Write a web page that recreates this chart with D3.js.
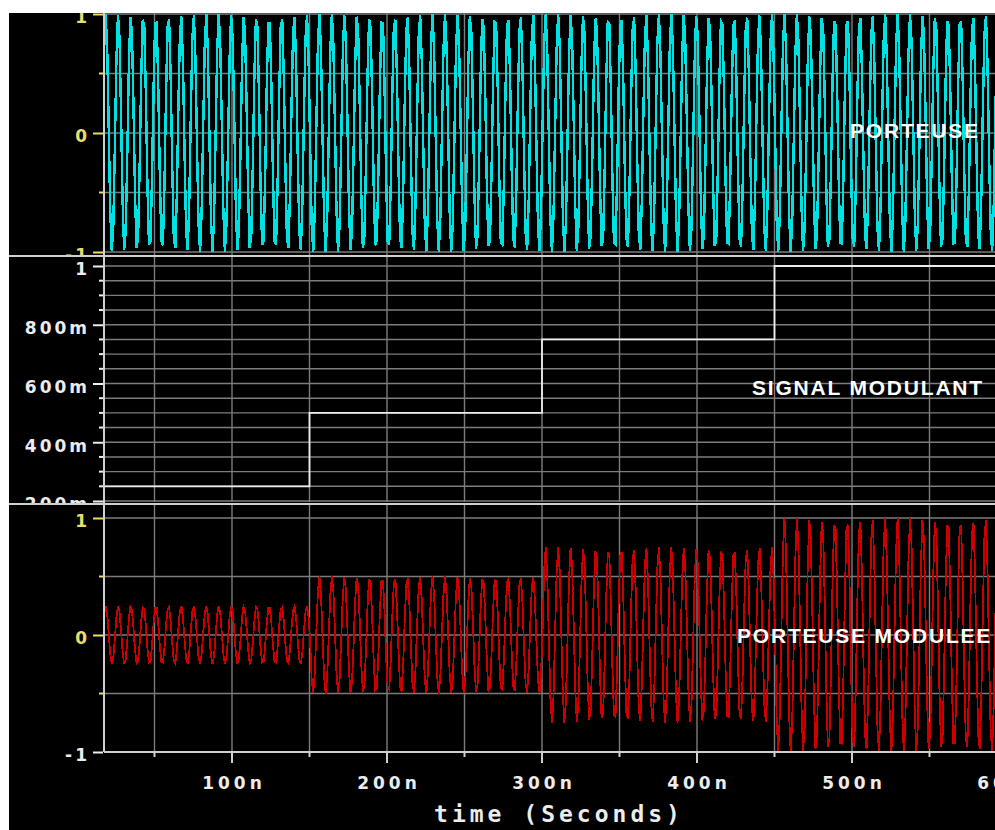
<!DOCTYPE html>
<html>
<head>
<meta charset="utf-8">
<script src="https://cdn.jsdelivr.net/npm/d3@7"></script>
<style>
  body { margin: 0; background: #fff; }
  svg { display: block; }
</style>
</head>
<body>
<svg id="chart" width="995" height="830"></svg>
<script>
// ---- time axis (nanoseconds) ----
const timeTicks = [100, 200, 300, 400, 500, 600];
const timeTickLabels = ["100n", "200n", "300n", "400n", "500n", "600n"];
const timeGrid = [50, 100, 150, 200, 250, 300, 350, 400, 450, 500, 550, 600];
const timeLabel = "time (Seconds)";

// ---- modulating signal: piecewise-constant levels between switch times ----
const stepTimes = [0, 150, 300, 450, 600];
const stepLevels = [0.25, 0.5, 0.75, 1.0];

// ---- carrier source settings ----
const carrierAmplitude = [1];
const carrierPeriodNs = [8.11];
const carrierPeakTimeNs = [26.6];
const sampleStepNs = [1];

// ---- vertical axes ----
const carrierTicks = [-1, 0, 1];
const carrierTickLabels = ["-1", "0", "1"];
const carrierMinorTicks = [-0.5, 0.5];
const modTicks = [0.2, 0.4, 0.6, 0.8, 1];
const modTickLabels = ["200m", "400m", "600m", "800m", "1"];
const modMinorTicks = [0.25, 0.3, 0.35, 0.45, 0.5, 0.55, 0.65, 0.7, 0.75, 0.85, 0.9, 0.95];

// ---- panel titles ----
const panelTitles = ["PORTEUSE", "SIGNAL MODULANT", "PORTEUSE MODULEE"];

// ---------------------------------------------------------------
const W = 995, H = 830;
const svg = d3.select("#chart");
const plotLeft = 104, plotRight = W;

const COL = {
  bg: "#000",
  grid: "#7c7c7c",
  axis: "#cfcfcf",
  yellow: "#e9dd6a",
  white: "#ececec",
  cyan: "#00e2e2",
  red: "#cc0000"
};

const x = d3.scaleLinear().domain([0, 600]).range([77, 1007]);
const tStart = x.invert(plotLeft);

// panel layouts
const panels = [
  { band: [13, 255], plot: [13, 255], y: d3.scaleLinear().domain([-1, 1]).range([252, 14]) },
  { band: [256, 503], plot: [257, 502], y: d3.scaleLinear().domain([0.2, 1]).range([501, 266]) },
  { band: [504, 830], plot: [505, 752], y: d3.scaleLinear().domain([-1, 1]).range([752, 518]) }
];

// frame
svg.append("rect").attr("width", W).attr("height", H).attr("fill", "#fff");
svg.append("rect").attr("x", 9).attr("y", 13).attr("width", W - 9).attr("height", H - 13).attr("fill", COL.bg);

const defs = svg.append("defs");
panels.forEach((p, i) => {
  defs.append("clipPath").attr("id", "band" + i)
    .append("rect").attr("x", 9).attr("y", p.band[0]).attr("width", W - 9).attr("height", p.band[1] - p.band[0]);
  defs.append("clipPath").attr("id", "plot" + i)
    .append("rect").attr("x", plotLeft).attr("y", p.plot[0]).attr("width", plotRight - plotLeft).attr("height", p.plot[1] - p.plot[0]);
});

// ---- waveform samples ----
function envelope(t) {
  for (let i = 0; i < stepLevels.length; i++) {
    if (t < stepTimes[i + 1]) return stepLevels[i];
  }
  return stepLevels[stepLevels.length - 1];
}
const times = d3.range(tStart, 600.001, sampleStepNs[0]);
const carrier = times.map(t => ({
  t, v: carrierAmplitude[0] * Math.cos(2 * Math.PI * (t - carrierPeakTimeNs[0]) / carrierPeriodNs[0])
}));
const modulating = [];
stepLevels.forEach((lv, i) => {
  const a = Math.max(stepTimes[i], tStart), b = stepTimes[i + 1];
  modulating.push({ t: a, v: lv }, { t: b, v: lv });
});
const modulated = carrier.map(d => ({ t: d.t, v: d.v * envelope(d.t) }));

// ---- grids ----
panels.forEach((p, i) => {
  const g = svg.append("g").attr("clip-path", `url(#plot${i})`);
  g.selectAll(".vg").data(timeGrid).join("line")
    .attr("x1", d => x(d)).attr("x2", d => x(d))
    .attr("y1", p.plot[0]).attr("y2", p.plot[1])
    .attr("stroke", COL.grid).attr("stroke-width", 1.4);
  const hvals = i === 1 ? modTicks.concat(modMinorTicks) : carrierTicks.concat(carrierMinorTicks);
  g.selectAll(".hg").data(hvals.filter(v => !(i === 2 && v === -1))).join("line")
    .attr("x1", plotLeft).attr("x2", plotRight)
    .attr("y1", d => p.y(d)).attr("y2", d => p.y(d))
    .attr("stroke", COL.grid).attr("stroke-width", 1.4);
});

// ---- traces ----
function drawTrace(i, data, color, width, curve, crisp) {
  const p = panels[i];
  const line = d3.line().x(d => x(d.t)).y(d => p.y(d.v)).curve(curve || d3.curveLinear);
  svg.append("g").attr("clip-path", `url(#plot${i})`)
    .append("path").datum(data)
    .attr("d", line).attr("fill", "none")
    .attr("stroke", color).attr("stroke-width", width)
    .attr("stroke-linejoin", "miter")
    .attr("shape-rendering", crisp ? "crispEdges" : "auto");
}
drawTrace(0, carrier, COL.cyan, 2.4, d3.curveLinear, true);
drawTrace(1, modulating, COL.white, 1.8, d3.curveStepAfter, false);
drawTrace(2, modulated, COL.red, 1.8, d3.curveLinear, true);

// ---- vertical axes ----
const tickFont = "'DejaVu Sans', sans-serif";
function yAxis(i, majors, labels, minors, colorOf) {
  const p = panels[i];
  const g = svg.append("g").attr("clip-path", `url(#band${i})`);
  const axis = d3.axisLeft(p.y).tickValues(majors)
    .tickFormat((d, k) => labels[k]).tickSize(10).tickPadding(6);
  const ax = g.append("g").attr("transform", `translate(${plotLeft - 1},0)`).call(axis);
  ax.select(".domain").remove();
  ax.selectAll(".tick line").attr("stroke", (d, k) => colorOf(d, true)).attr("stroke-width", 2);
  ax.selectAll(".tick text")
    .attr("fill", d => colorOf(d, false))
    .attr("font-family", tickFont).attr("font-weight", "bold")
    .attr("font-size", 17).attr("letter-spacing", "3px")
    .attr("dx", "3px").attr("dy", "0.52em");
  g.selectAll(".minor").data(minors).join("line")
    .attr("x1", plotLeft - 5).attr("x2", plotLeft - 1)
    .attr("y1", d => p.y(d)).attr("y2", d => p.y(d))
    .attr("stroke", d => colorOf(d, true)).attr("stroke-width", 2);
}
yAxis(0, carrierTicks, carrierTickLabels, carrierMinorTicks, () => COL.yellow);
yAxis(1, modTicks, modTickLabels, modMinorTicks, () => COL.white);
yAxis(2, carrierTicks, carrierTickLabels, carrierMinorTicks, d => (d === -1 ? COL.white : COL.yellow));

// axis spine and panel separators
svg.append("line").attr("x1", plotLeft).attr("x2", plotLeft).attr("y1", 13).attr("y2", 752)
  .attr("stroke", COL.axis).attr("stroke-width", 2);
[256, 504].forEach(yy => {
  svg.append("line").attr("x1", 9).attr("x2", W).attr("y1", yy).attr("y2", yy)
    .attr("stroke", COL.axis).attr("stroke-width", 2);
});

// ---- time axis ----
const xg = svg.append("g").attr("transform", `translate(0,${panels[2].y(-1)})`);
xg.append("line").attr("x1", plotLeft).attr("x2", plotRight).attr("y1", 0).attr("y2", 0)
  .attr("stroke", COL.axis).attr("stroke-width", 2);
xg.selectAll(".xt").data(timeGrid).join("line")
  .attr("x1", d => x(d)).attr("x2", d => x(d))
  .attr("y1", 0).attr("y2", d => (timeTicks.includes(d) ? 11 : 5))
  .attr("stroke", COL.axis).attr("stroke-width", 2);
xg.selectAll(".xl").data(timeTicks).join("text")
  .attr("x", d => x(d) + 2).attr("y", 37)
  .attr("text-anchor", "middle")
  .attr("fill", COL.white)
  .attr("font-family", tickFont).attr("font-weight", "bold")
  .attr("font-size", 17).attr("letter-spacing", "4px")
  .text((d, k) => timeTickLabels[k]);
svg.append("text")
  .attr("x", 559).attr("y", 822).attr("text-anchor", "middle")
  .attr("fill", COL.white)
  .attr("font-family", "'DejaVu Sans Mono', monospace")
  .attr("font-weight", "bold")
  .attr("font-size", 23).attr("letter-spacing", "4px")
  .text(timeLabel);

// ---- panel titles ----
const titlePos = [[850, 138], [752, 395], [737, 643]];
panelTitles.forEach((t, i) => {
  svg.append("text")
    .attr("x", titlePos[i][0]).attr("y", titlePos[i][1])
    .attr("fill", "#fff")
    .attr("font-family", "'Liberation Sans', Arial, sans-serif")
    .attr("font-weight", "bold").attr("font-size", 21)
    .attr("letter-spacing", "1.8px")
    .text(t);
});
</script>
</body>
</html>
